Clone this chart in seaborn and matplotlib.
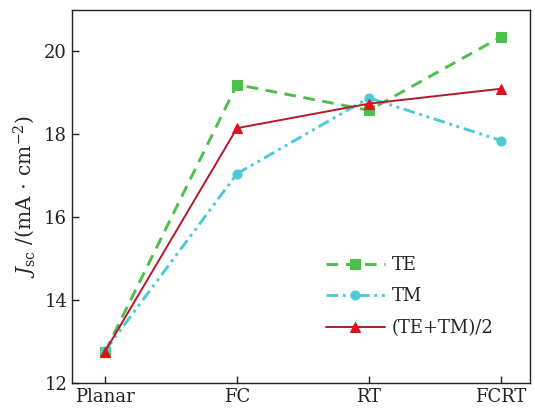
import matplotlib
matplotlib.use("Agg")
import matplotlib.pyplot as plt
import seaborn as sns
import pandas as pd

structures = ["Planar", "FC", "RT", "FCRT"]
jsc_te = [12.75, 19.2, 18.58, 20.35]
jsc_tm = [12.78, 17.05, 18.88, 17.85]
jsc_avg = [12.76, 18.15, 18.74, 19.1]
series_names = ["TE", "TM", "(TE+TM)/2"]

sns.set_theme(style="ticks")
plt.rcParams["font.family"] = ["DejaVu Serif"]
plt.rcParams["mathtext.fontset"] = "dejavuserif"

rows = []
for name, vals in zip(series_names, [jsc_te, jsc_tm, jsc_avg]):
    for i, (s, v) in enumerate(zip(structures, vals)):
        rows.append({"pos": i, "structure": s, "Jsc": v, "series": name})
df = pd.DataFrame(rows)

line_colors = {"TE": "#4dbf4a", "TM": "#4ccad6", "(TE+TM)/2": "#b5172b"}
marker_colors = {"TE": "#4dbf4a", "TM": "#4ccad6", "(TE+TM)/2": "#d8141f"}
dashes = {"TE": (4, 2.6), "TM": (4, 1.6, 1, 1.6, 1, 1.6), "(TE+TM)/2": ""}
markers = {"TE": "s", "TM": "o", "(TE+TM)/2": "^"}
widths = {"TE": 2.1, "TM": 2.1, "(TE+TM)/2": 1.4}

fig = plt.figure(figsize=(5.35, 4.11), dpi=100)
ax = fig.add_axes([0.1346, 0.0681, 0.8561, 0.9076])

for name in series_names:
    sub = df[df["series"] == name]
    sns.lineplot(data=sub, x="pos", y="Jsc", ax=ax, color=line_colors[name],
                 marker=markers[name], markersize=6.5,
                 markerfacecolor=marker_colors[name], markeredgecolor=marker_colors[name],
                 linewidth=widths[name], label=name)
    ln = ax.get_lines()[-1]
    if dashes[name]:
        ln.set_dashes(dashes[name])

ax.set_xlim(-0.25, 3.22)
ax.set_ylim(12, 21)
ax.set_xticks(range(len(structures)))
ax.set_xticklabels(structures)
ax.set_yticks([12, 14, 16, 18, 20])
ax.tick_params(direction="in", labelsize=13, length=5, width=1, colors="#222222")
ax.set_xlabel("")
ax.set_ylabel(r"$J_{\rm sc}$ /(mA$\,\cdot\,$cm$^{-2}$)", fontsize=14.5, labelpad=4)
for sp in ax.spines.values():
    sp.set_linewidth(1.0)
    sp.set_color("#222222")

ax.legend(loc="lower right", bbox_to_anchor=(0.955, 0.08), frameon=False, fontsize=13,
          handlelength=3.3, handletextpad=0.35, labelspacing=0.75)

fig.savefig("out.png", dpi=100)
